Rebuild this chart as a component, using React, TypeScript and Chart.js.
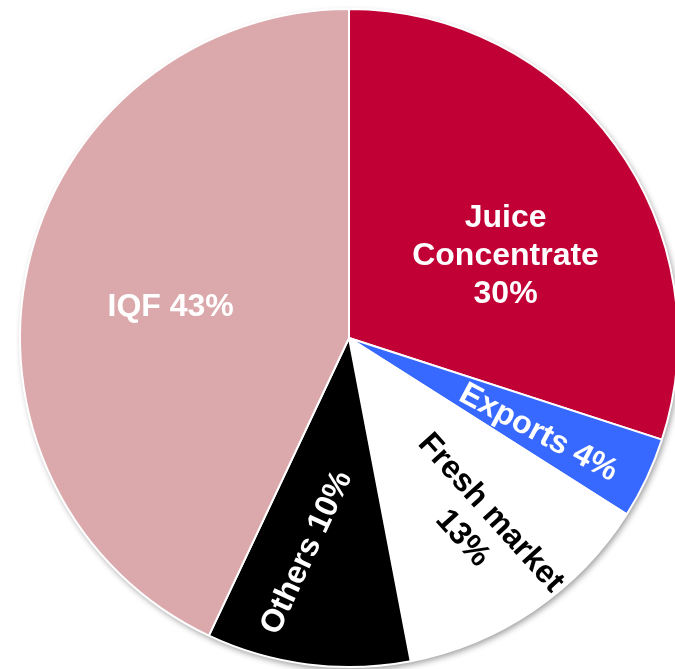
import React, { useEffect, useRef } from "react";
import { Chart, registerables } from "chart.js";

Chart.register(...registerables);

const categories = ["Juice Concentrate", "Exports", "Fresh market", "Others", "IQF"];
const shares = [30, 4, 13, 10, 43];
const sliceColors = ["#C10035", "#3768FF", "#FFFFFF", "#000000", "#DBA9AC"];
const labelLines = [["Juice", "Concentrate", "30%"], ["Exports 4%"], ["Fresh market", "13%"], ["Others 10%"], ["IQF 43%"]];
const labelColors = ["#FFFFFF", "#FFFFFF", "#000000", "#FFFFFF", "#FFFFFF"];
// label placement: fraction of radius, angular offset from slice mid (deg), text rotation (deg)
const labelFrac = [0.537, 0.644, 0.69, 0.665, 0.55];
const labelDAng = [8.4, 1.4, 0, 3.9, -2.8];
const labelRot = [0, 28, 48, -65, 0];

const labelPlugin = {
  id: "sliceLabels",
  beforeDatasetsDraw(chart: any) {
    const meta = chart.getDatasetMeta(0);
    const a = meta.data[0];
    if (!a) return;
    const ctx = chart.ctx;
    ctx.save();
    ctx.shadowColor = "rgba(0,0,0,0.4)";
    ctx.shadowBlur = 6;
    ctx.shadowOffsetX = 2;
    ctx.shadowOffsetY = 3;
    ctx.beginPath();
    ctx.arc(a.x, a.y, a.outerRadius, 0, Math.PI * 2);
    ctx.fillStyle = "#FFFFFF";
    ctx.fill();
    ctx.restore();
  },
  afterDatasetsDraw(chart: any) {
    const meta = chart.getDatasetMeta(0);
    const ctx = chart.ctx;
    ctx.save();
    ctx.font = "bold 32px 'Liberation Sans', Arial, sans-serif";
    ctx.textAlign = "center";
    ctx.textBaseline = "middle";
    meta.data.forEach((arc: any, i: number) => {
      const mid = (arc.startAngle + arc.endAngle) / 2 + (labelDAng[i] * Math.PI) / 180;
      const r = arc.outerRadius * labelFrac[i];
      const x = arc.x + Math.cos(mid) * r;
      const y = arc.y + Math.sin(mid) * r;
      const lines = labelLines[i];
      const lh = 38;
      ctx.save();
      ctx.translate(x, y);
      ctx.rotate((labelRot[i] * Math.PI) / 180);
      ctx.fillStyle = labelColors[i];
      lines.forEach((t, k) => {
        ctx.fillText(t, 0, (k - (lines.length - 1) / 2) * lh);
      });
      ctx.restore();
    });
    ctx.restore();
  },
};

export default function App() {
  const ref = useRef<HTMLCanvasElement>(null);
  useEffect(() => {
    if (!ref.current) return;
    const chart = new Chart(ref.current, {
      type: "pie",
      data: {
        labels: categories,
        datasets: [
          {
            data: shares,
            backgroundColor: sliceColors,
            borderColor: "#FFFFFF",
            borderWidth: 2,
          },
        ],
      },
      options: {
        responsive: false,
        animation: false,
        layout: { padding: { top: 8, bottom: 8, left: 0, right: 0 } },
        plugins: { legend: { display: false }, tooltip: { enabled: false } },
      },
      plugins: [labelPlugin],
    });
    return () => chart.destroy();
  }, []);
  return (
    <div style={{ position: "fixed", left: 0, top: 0, width: 675, height: 669, overflow: "hidden", background: "#FFFFFF" }}>
      <canvas ref={ref} width={698} height={676} style={{ display: "block" }} />
    </div>
  );
}
